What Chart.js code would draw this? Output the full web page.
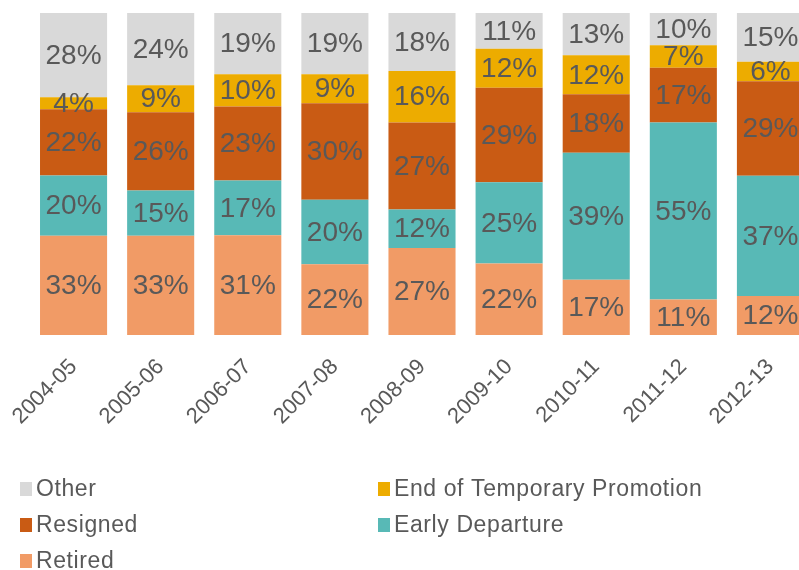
<!DOCTYPE html>
<html>
<head>
<meta charset="utf-8">
<script src="https://cdn.jsdelivr.net/npm/chart.js@4/dist/chart.umd.min.js"></script>
<style>
  html, body { margin: 0; padding: 0; background: #fff; overflow: hidden; }
  #wrap { width: 799px; height: 570px; overflow: hidden; }
</style>
</head>
<body>
<div id="wrap"><canvas id="chart" width="830" height="570"></canvas></div>
<script>
// years on the x axis
const years = ['2004-05', '2005-06', '2006-07', '2007-08', '2008-09', '2009-10', '2010-11', '2011-12', '2012-13']

// percentages as printed on the bars
const retired = [33, 33, 31, 22, 27, 22, 17, 11, 12]
const earlyDeparture = [20, 15, 17, 20, 12, 25, 39, 55, 37]
const resigned = [22, 26, 23, 30, 27, 29, 18, 17, 29]
const endTempPromotion = [4, 9, 10, 9, 16, 12, 12, 7, 6]
const other = [28, 24, 19, 19, 18, 11, 13, 10, 15]

const seriesNames = ['Retired', 'Early Departure', 'Resigned', 'End of Temporary Promotion', 'Other']
const seriesColors = ['#F19B66', '#58B9B6', '#C95B14', '#EDAC00', '#D9D9D9']
const seriesValues = [retired, earlyDeparture, resigned, endTempPromotion, other]

// legend reads row by row like the original
const legendOrder = ['Other', 'End of Temporary Promotion', 'Resigned', 'Early Departure', 'Retired']

const labelColor = '#595959'
const fontFamily = '"Liberation Sans", Arial, sans-serif'

// 100% stacked: each bar is scaled to its own total
const totals = years.map((y, i) => seriesValues.reduce((s, arr) => s + arr[i], 0))

const datasets = seriesNames.map((name, k) => ({
  label: name,
  raw: seriesValues[k],
  data: seriesValues[k].map((v, i) => v / totals[i] * 100),
  backgroundColor: seriesColors[k],
  borderWidth: 0,
  categoryPercentage: 1,
  barPercentage: 0.77
}))

//Labels in the middle of each segment
const segmentLabels = {
  id: 'segmentLabels',
  afterDatasetsDraw(chart) {
    const ctx = chart.ctx
    ctx.save()
    ctx.font = '28px ' + fontFamily
    ctx.fillStyle = labelColor
    ctx.textAlign = 'center'
    ctx.textBaseline = 'middle'
    chart.data.datasets.forEach((ds, k) => {
      chart.getDatasetMeta(k).data.forEach((bar, i) => {
        ctx.fillText(ds.raw[i] + '%', bar.x, (bar.y + bar.base) / 2 + 1)
      })
    })
    ctx.restore()
  }
}

//Two column legend under the chart
const gridLegend = {
  id: 'gridLegend',
  afterDraw(chart) {
    const ctx = chart.ctx
    const cols = [20, 378]
    const rows = [489, 525, 561]
    ctx.save()
    ctx.font = '23px ' + fontFamily
    ctx.letterSpacing = '0.6px'
    ctx.textBaseline = 'middle'
    ctx.textAlign = 'left'
    legendOrder.forEach((name, n) => {
      const ds = chart.data.datasets.find(d => d.label === name)
      const x = cols[n % 2]
      const y = rows[Math.floor(n / 2)]
      ctx.fillStyle = ds.backgroundColor
      ctx.fillRect(x, y - 7, 12, 14)
      ctx.fillStyle = labelColor
      ctx.fillText(name, x + 16, y + 1)
    })
    ctx.restore()
  }
}

new Chart(document.getElementById('chart'), {
  type: 'bar',
  data: { labels: years, datasets: datasets },
  options: {
    responsive: false,
    animation: false,
    layout: { padding: { top: 13, left: 30, right: 16, bottom: 135 } },
    plugins: {
      legend: { display: false },
      tooltip: { enabled: false }
    },
    scales: {
      x: {
        stacked: true,
        grid: { display: false, drawTicks: false },
        border: { display: false },
        ticks: {
          color: labelColor,
          font: { family: fontFamily, size: 22 },
          maxRotation: 45,
          minRotation: 45,
          autoSkip: false,
          padding: 19
        },
        afterFit(scale) {
          scale.height = 100
          // rotated labels fit inside the layout padding already
          scale.paddingLeft = 0
          scale.paddingRight = 0
        }
      },
      y: {
        stacked: true,
        display: false,
        min: 0,
        max: 100
      }
    }
  },
  plugins: [segmentLabels, gridLegend]
})
</script>
</body>
</html>
